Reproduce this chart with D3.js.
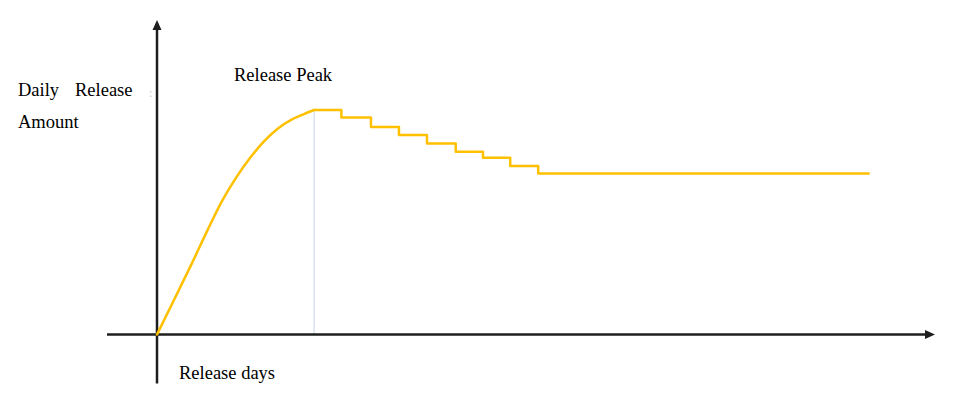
<!DOCTYPE html>
<html>
<head>
<meta charset="utf-8">
<script src="https://cdn.jsdelivr.net/npm/d3@7"></script>
<style>
  html, body { margin: 0; padding: 0; background: #fff; }
  svg { display: block; }
  text { font-family: "Liberation Serif", "Times New Roman", serif; font-size: 18.5px; fill: #000; }
</style>
</head>
<body>
<svg id="chart" width="969" height="404"></svg>
<script>
// ---- data (arbitrary units: days 0..100 along x, amount 0..100 along y) ----
const riseDays   = [0, 2.31, 4.50, 6.56, 8.35, 10.15, 11.95, 13.75, 15.55, 17.35, 18.89, 20.2];
const riseAmount = [0, 11.6, 22.7, 33.5, 42.4, 49.8, 56.1, 61.4, 65.5, 68.4, 70.1, 71.4];
const stepDays   = [20.2, 23.7, 27.5, 31.1, 34.7, 38.4, 41.9, 45.4, 49.0, 91.6];
const stepAmount = [71.4, 69.0, 66.0, 63.4, 60.7, 58.1, 56.2, 53.6, 51.2, 51.2];
const peakDay = 20.2;
const peakAmount = 71.4;
const xAxisExtent = [-6.43, 100];
const yAxisExtent = [-15.6, 100];
const labels = {
  yLine1: ["Daily", "Release"],
  yLine2: "Amount",
  peak: "Release Peak",
  x: "Release days"
};

// ---- layout ----
const svg = d3.select("#chart");
const x = d3.scaleLinear().domain([0, 100]).range([157, 935]);
const y = d3.scaleLinear().domain([0, 100]).range([334.5, 20]);

const axisColor = "#1e1e1e";
const lineColor = "#FFC000";

// peak guide line
svg.append("line")
  .attr("x1", x(peakDay)).attr("x2", x(peakDay))
  .attr("y1", y(peakAmount)).attr("y2", y(0))
  .attr("stroke", "#dbe5f1").attr("stroke-width", 1.6);

// x axis
svg.append("line")
  .attr("x1", x(xAxisExtent[0])).attr("x2", x(xAxisExtent[1]) - 8)
  .attr("y1", y(0)).attr("y2", y(0))
  .attr("stroke", axisColor).attr("stroke-width", 2.5);
svg.append("path")
  .attr("d", `M${x(xAxisExtent[1])},${y(0)} L${x(xAxisExtent[1]) - 10},${y(0) - 4.5} L${x(xAxisExtent[1]) - 10},${y(0) + 4.5} Z`)
  .attr("fill", axisColor);

// y axis
svg.append("line")
  .attr("x1", x(0)).attr("x2", x(0))
  .attr("y1", y(yAxisExtent[0])).attr("y2", y(yAxisExtent[1]) + 8)
  .attr("stroke", axisColor).attr("stroke-width", 2.5);
svg.append("path")
  .attr("d", `M${x(0)},${y(yAxisExtent[1])} L${x(0) - 4.5},${y(yAxisExtent[1]) + 10} L${x(0) + 4.5},${y(yAxisExtent[1]) + 10} Z`)
  .attr("fill", axisColor);

// rising curve
const rise = riseDays.map((d, i) => [d, riseAmount[i]]);
svg.append("path")
  .datum(rise)
  .attr("d", d3.line().x(d => x(d[0])).y(d => y(d[1])).curve(d3.curveMonotoneX))
  .attr("fill", "none").attr("stroke", lineColor).attr("stroke-width", 2.5)
  .attr("stroke-linecap", "round");

// stepped decline
const steps = stepDays.map((d, i) => [d, stepAmount[i]]);
svg.append("path")
  .datum(steps)
  .attr("d", d3.line().x(d => x(d[0])).y(d => y(d[1])).curve(d3.curveStepAfter))
  .attr("fill", "none").attr("stroke", lineColor).attr("stroke-width", 2.5)
  .attr("stroke-linejoin", "round");

// labels
svg.append("text").attr("x", 18).attr("y", 96).text(labels.yLine1[0]);
svg.append("text").attr("x", 75).attr("y", 96).text(labels.yLine1[1]);
svg.append("text").attr("x", 18).attr("y", 128).text(labels.yLine2);
svg.append("text").attr("x", 149).attr("y", 97).style("font-size", "12px").style("fill", "#c8c8c8").text(":");
svg.append("text").attr("x", 234).attr("y", 81).text(labels.peak);
svg.append("text").attr("x", 179).attr("y", 379).text(labels.x);
</script>
</body>
</html>
